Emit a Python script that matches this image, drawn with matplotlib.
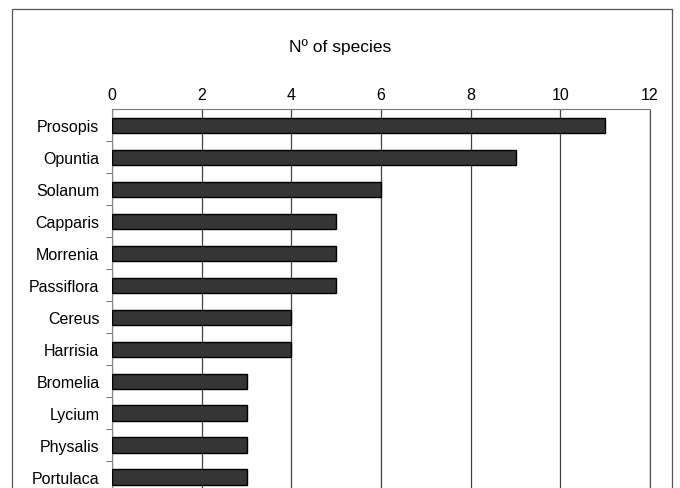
import matplotlib.pyplot as plt
from matplotlib.patches import Rectangle

plt.rcParams["font.family"] = ["Liberation Sans", "DejaVu Sans"]

genera = ["Prosopis", "Opuntia", "Solanum", "Capparis", "Morrenia", "Passiflora",
          "Cereus", "Harrisia", "Bromelia", "Lycium", "Physalis", "Portulaca"]
n_species = [11, 9, 6, 5, 5, 5, 4, 4, 3, 3, 3, 3]
x_ticks = [0, 2, 4, 6, 8, 10, 12]

fig = plt.figure(figsize=(6.8, 4.89), dpi=100)
ax = fig.add_axes([0.1647, -0.0102, 0.7912, 0.785])

pos = list(range(len(genera)))
ax.barh(pos, n_species, height=0.47, color="#353535", edgecolor="black",
        linewidth=1.0, zorder=3)

ax.set_xlim(0, 12)
ax.set_ylim(len(genera) - 0.5, -0.5)
ax.set_xticks(x_ticks)
ax.xaxis.tick_top()
ax.tick_params(axis="x", length=0, pad=5, labelsize=11.5)
ax.set_yticks(pos)
ax.set_yticklabels(genera, fontsize=11.5)
ax.set_yticks([p + 0.5 for p in pos], minor=True)
ax.tick_params(axis="y", which="major", length=0, pad=9)
ax.tick_params(axis="y", which="minor", length=4, color="#555555")
ax.grid(axis="x", color="#444444", linewidth=0.9, zorder=1)

ax.spines["bottom"].set_visible(False)
ax.spines["left"].set_color("#888888")
ax.spines["left"].set_linewidth(0.8)
ax.spines["top"].set_color("#777777")
ax.spines["top"].set_linewidth(0.8)
ax.spines["top"].set_linestyle((0, (4, 1)))
ax.spines["right"].set_color("#555555")
ax.spines["right"].set_linewidth(0.9)
ax.spines["right"].set_linestyle((0, (1, 1)))

fig.text(0.5, 1 - 47 / 489, "Nº of species", ha="center", va="center", fontsize=12.5)

frame = Rectangle((12 / 680, -0.02), 660 / 680, 1 - 10 / 489 + 0.02,
                  transform=fig.transFigure, fill=False, edgecolor="#555555",
                  linewidth=0.9)
fig.patches.append(frame)

fig.savefig("out.png", dpi=100)
